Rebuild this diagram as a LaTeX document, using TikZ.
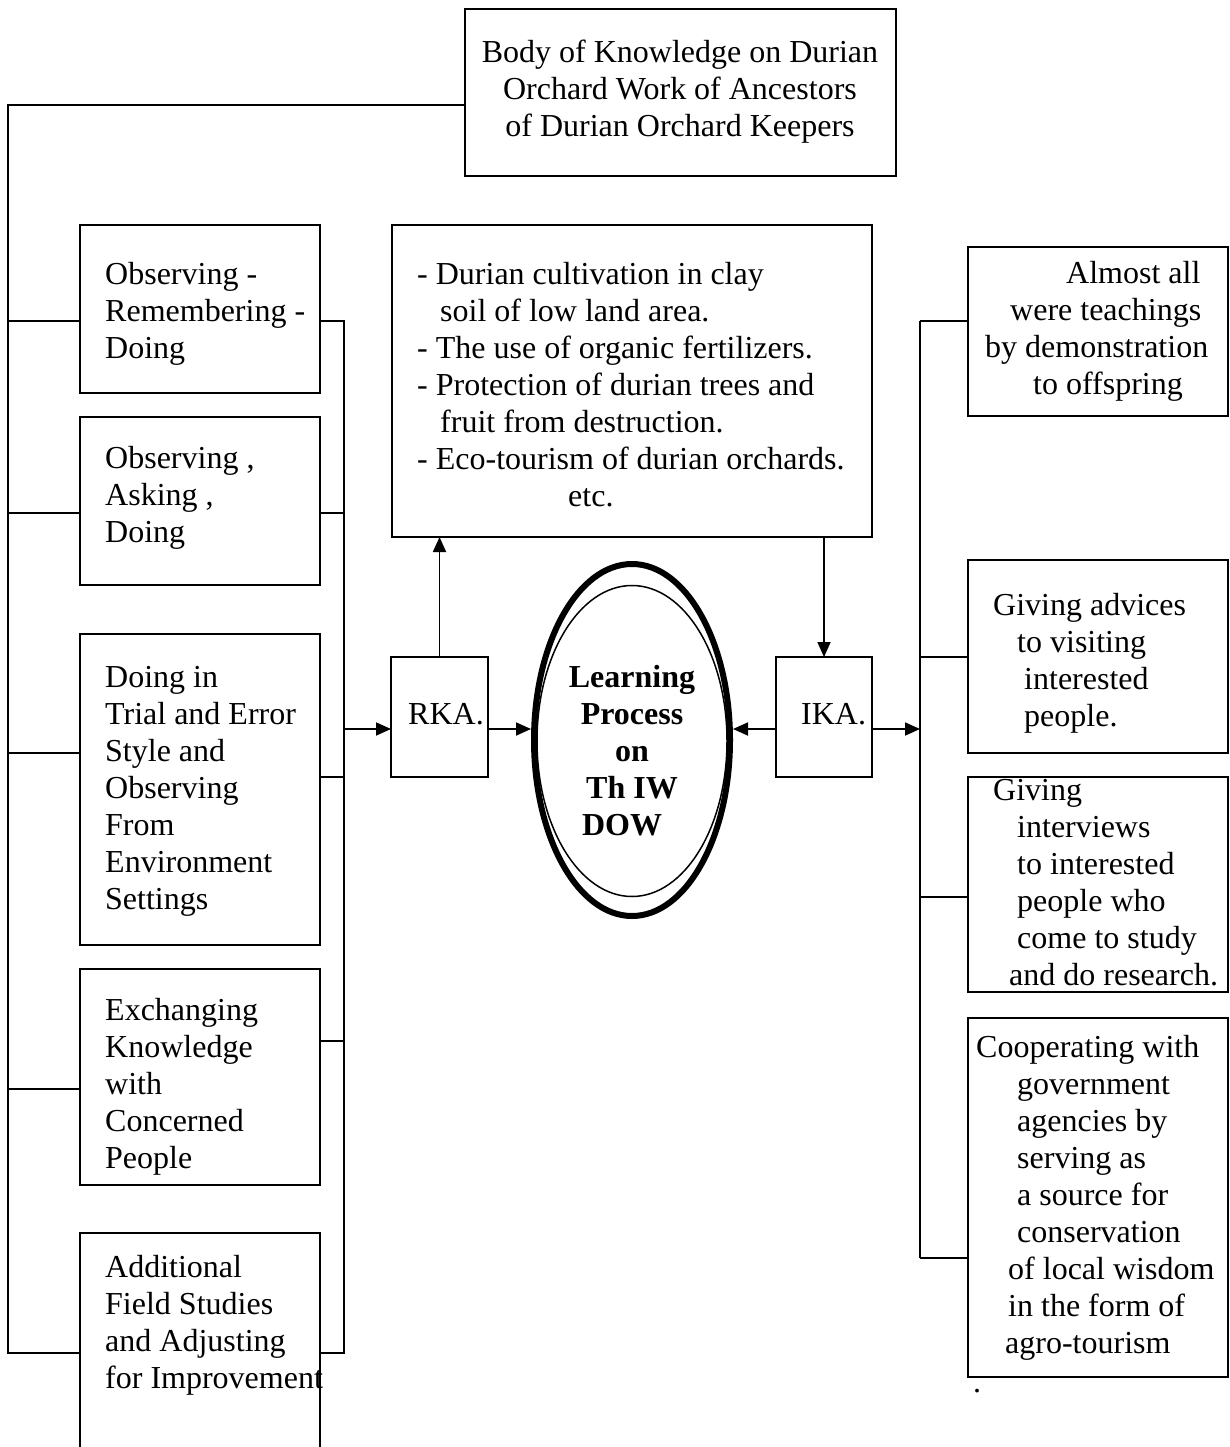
\documentclass[tikz,border=0pt]{standalone}
\usepackage{fontspec}
\setmainfont{Liberation Serif}
\usetikzlibrary{arrows.meta,shapes.geometric}
\begin{document}
\begin{tikzpicture}[x=1pt,y=-1pt,
  box/.style={draw, line width=1.8pt, inner sep=0pt, outer sep=0pt, anchor=north west},
  txt/.style={font=\fontsize{32}{37}\selectfont, align=left, inner sep=0pt, anchor=base west},
  btxt/.style={font=\fontsize{32}{37}\selectfont\bfseries, align=center, inner sep=0pt, anchor=base},
  ln/.style={line width=1.8pt},
  arr/.style={line width=1.8pt, -{Triangle[length=15pt,width=13pt]}}]
\useasboundingbox (0,0) rectangle (1229,1447);
\fill[white] (0,0) rectangle (1229,1447);

% top box
\node[box, minimum width=431pt, minimum height=167pt] (top) at (465,9) {};
\node[txt, align=center, anchor=base] (toptext) at (680,137) {Body of Knowledge on Durian\\Orchard Work of Ancestors\\of Durian Orchard Keepers};

% left column boxes
\node[box, minimum width=240pt, minimum height=168pt] (b1) at (80,225) {};
\node[txt] (t1) at (105,358) {Observing -\\Remembering -\\Doing};
\node[box, minimum width=240pt, minimum height=168pt] (b2) at (80,417) {};
\node[txt] (t2) at (105,542) {Observing ,\\Asking ,\\Doing};
\node[box, minimum width=240pt, minimum height=311pt] (b3) at (80,634) {};
\node[txt] (t3) at (105,909) {Doing in\\Trial and Error\\Style and\\Observing\\From\\Environment\\Settings};
\node[box, minimum width=240pt, minimum height=216pt] (b4) at (80,969) {};
\node[txt] (t4) at (105,1168) {Exchanging\\Knowledge\\with\\Concerned\\People};
\node[box, draw=none, minimum width=240pt, minimum height=240pt] (b5) at (80,1233) {};
\draw[ln] (b5.south west) -- (b5.north west) -- (b5.north east) -- (b5.south east);
\node[txt] (t5) at (105,1388) {Additional\\Field Studies\\and Adjusting\\for Improvement};

% middle box
\node[box, minimum width=480pt, minimum height=312pt] (m) at (392,225) {};
\node[txt] (mt) at (417,506) {- Durian cultivation in clay\\\hspace*{23pt}soil of low land area.\\- The use of organic fertilizers.\\- Protection of durian trees and\\\hspace*{23pt}fruit from destruction.\\- Eco-tourism of durian orchards.\\\hspace*{151pt}etc.};

% RKA / IKA
\node[box, minimum width=97pt, minimum height=120pt] (R) at (391,657) {};
\node[txt] (Rt) at (408,724) {RKA.};
\node[box, minimum width=96pt, minimum height=120pt] (I) at (776,657) {};
\node[txt] (It) at (801,724) {IKA.};

% ellipse
\node[ellipse, draw, line width=6pt, minimum width=196pt, minimum height=352pt, inner sep=0pt] (E) at (632,740) {};
\node[ellipse, draw, line width=1.5pt, minimum width=190pt, minimum height=311pt, inner sep=0pt] (Ei) at (632,741) {};
\node[btxt] (Et) at (632,835) {Learning\\Process\\on\\Th IW\hspace*{20pt}\\DOW\hspace*{20pt}};

% right column boxes
\node[box, minimum width=260pt, minimum height=169pt] (r1) at (968,247) {};
\node[txt] (rt1) at (985,394) {\hspace*{81pt}Almost all\\\hspace*{25pt}were teachings\\by demonstration\\\hspace*{48pt}to offspring};
\node[box, minimum width=260pt, minimum height=193pt] (r2) at (968,560) {};
\node[txt] (rt2) at (993,726) {Giving advices\\\hspace*{24pt}to visiting\\\hspace*{31pt}interested\\\hspace*{31pt}people.};
\node[box, minimum width=260pt, minimum height=215pt] (r3) at (968,777) {};
\node[txt] (rt3) at (993,985) {Giving\\\hspace*{24pt}interviews\\\hspace*{24pt}to interested\\\hspace*{24pt}people who\\\hspace*{24pt}come to study\\\hspace*{16pt}and do research.};
\node[box, minimum width=260pt, minimum height=359pt] (r4) at (968,1018) {};
\node[txt] (rt4) at (976,1353) {Cooperating with\\\hspace*{41pt}government\\\hspace*{41pt}agencies by\\\hspace*{41pt}serving as\\\hspace*{41pt}a source for\\\hspace*{41pt}conservation\\\hspace*{32pt}of local wisdom\\\hspace*{32pt}in the form of\\\hspace*{29pt}agro-tourism};
\node[txt] (dot) at (973,1392) {.};

% left spine
\coordinate (LT) at (8,105);
\coordinate (L1) at (8,321);
\coordinate (L2) at (8,513);
\coordinate (L3) at (8,753);
\coordinate (L4) at (8,1089);
\coordinate (L5) at (8,1353);
\draw[ln] (top.west |- LT) -- (LT) -- (L5) -- (L5 -| b5.west);
\draw[ln] (L1) -- (L1 -| b1.west);
\draw[ln] (L2) -- (L2 -| b2.west);
\draw[ln] (L3) -- (L3 -| b3.west);
\draw[ln] (L4) -- (L4 -| b4.west);

% collecting spine
\coordinate (S1) at (344,321);
\coordinate (S2) at (344,513);
\coordinate (S3) at (344,777);
\coordinate (S4) at (344,1041);
\coordinate (S5) at (344,1353);
\coordinate (SA) at (344,729);
\draw[ln] (b1.east |- S1) -- (S1) -- (S5) -- (b5.east |- S5);
\draw[ln] (b2.east |- S2) -- (S2);
\draw[ln] (b3.east |- S3) -- (S3);
\draw[ln] (b4.east |- S4) -- (S4);
\draw[arr] (SA) -- (SA -| R.west);

% centre arrows
\draw[arr] (R.east |- SA) -- (E.west |- SA);
\draw[arr] (R.north) -- (R.north |- m.south);
\draw[arr] (I.north |- m.south) -- (I.north);
\draw[arr] (I.west |- SA) -- (E.east |- SA);

% right spine
\coordinate (Q1) at (920,321);
\coordinate (Q2) at (920,657);
\coordinate (Q3) at (920,897);
\coordinate (Q4) at (920,1258);
\coordinate (QA) at (920,729);
\draw[ln] (Q1) -- (Q4);
\draw[ln] (Q1) -- (Q1 -| r1.west);
\draw[ln] (Q2) -- (Q2 -| r2.west);
\draw[ln] (Q3) -- (Q3 -| r3.west);
\draw[ln] (Q4) -- (Q4 -| r4.west);
\draw[arr] (I.east |- QA) -- (QA);
\end{tikzpicture}
\end{document}
